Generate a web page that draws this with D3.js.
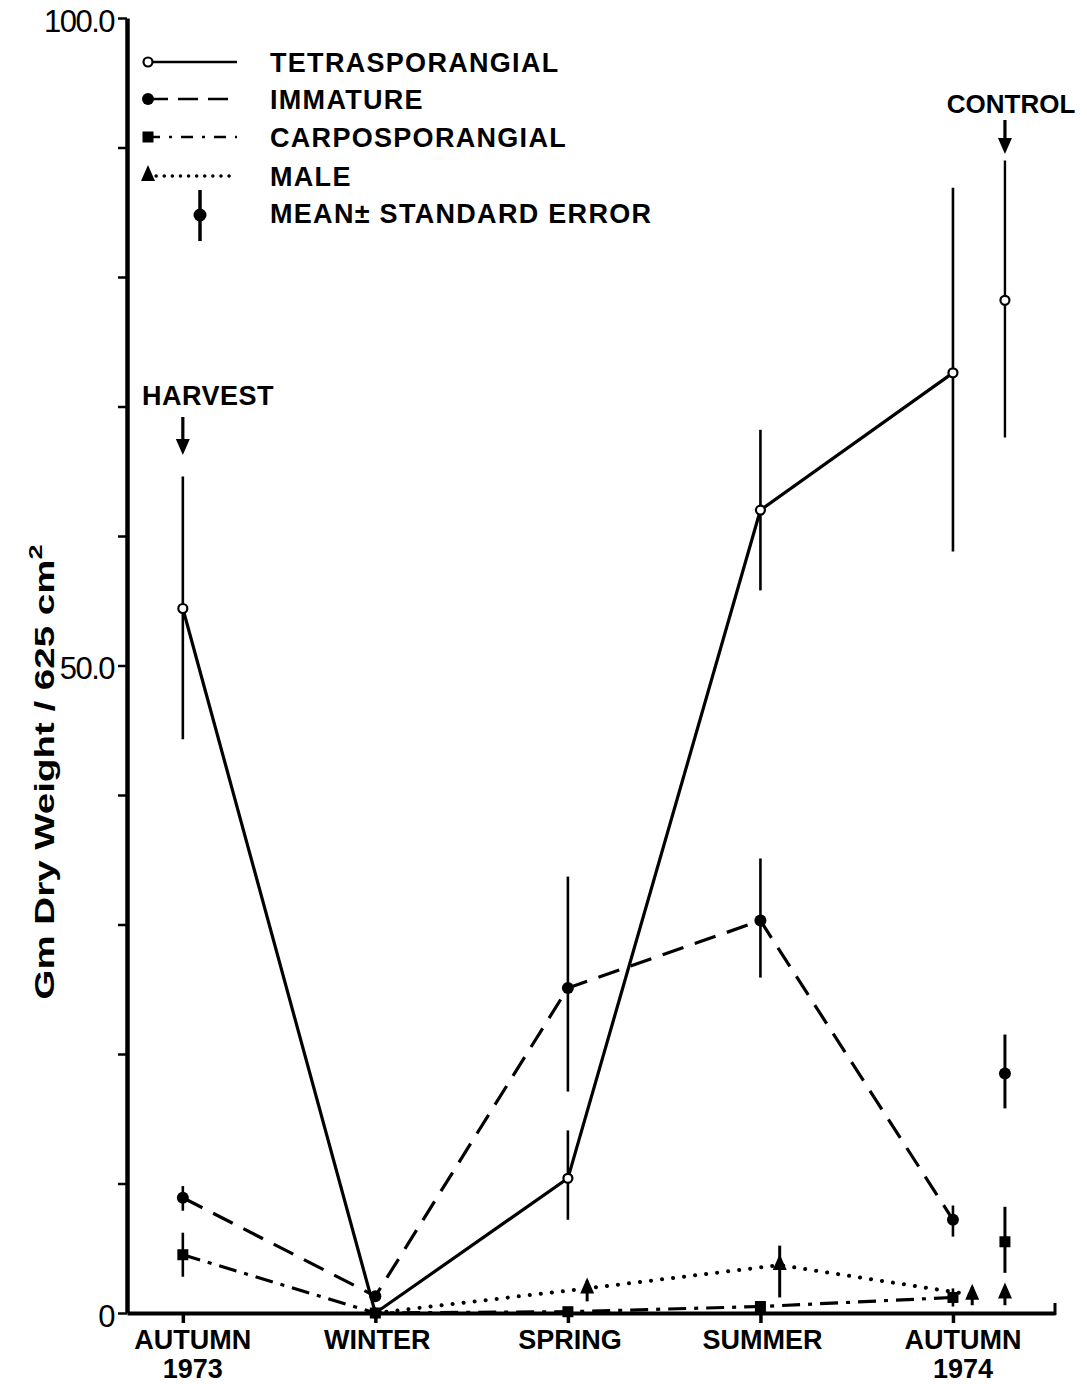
<!DOCTYPE html>
<html>
<head>
<meta charset="utf-8">
<script src="https://cdn.jsdelivr.net/npm/d3@7"></script>
<style>
  body { margin: 0; background: #fff; }
  svg { display: block; }
  text { font-family: "Liberation Sans", Arial, sans-serif; fill: #000; }
  .lbl { font-weight: bold; }
</style>
</head>
<body>
<svg class="chart"></svg>
<script>
// seasons along the x axis (index positions 0..4), control plot sits to the right
var seasonLabels = [["AUTUMN", "1973"], ["WINTER"], ["SPRING"], ["SUMMER"], ["AUTUMN", "1974"]];
var seasonIdx = [0, 1, 2, 3, 4];
var controlIdx = 4.27;
var maleShift = 0.1;

var yTicks = [0, 10, 20, 30, 40, 50, 60, 70, 80, 90, 100];
var yTickLabels = {0: "0", 50: "50.0", 100: "100.0"};

// mean and mean +/- standard error per season (null = none drawn)
var tetraMean = [54.4, 0, 10.4, 62.0, 72.6];
var tetraLo   = [44.3, null, 7.2, 55.8, 58.8];
var tetraHi   = [64.6, null, 14.1, 68.2, 86.9];

var immMean = [8.9, 1.3, 25.1, 30.3, 7.2];
var immLo   = [7.9, null, 17.1, 25.9, 5.9];
var immHi   = [9.8, null, 33.7, 35.1, 8.3];

var carpoMean = [4.5, 0, 0.1, 0.5, 1.2];
var carpoLo   = [2.8, null, null, null, 0.5];
var carpoHi   = [6.2, null, null, null, 1.9];

var maleMean = [null, 0, 1.9, 3.7, 1.4];
var maleLo   = [null, null, 0.9, 1.2, 0.6];
var maleHi   = [null, null, 2.5, 5.2, 2.0];

// control plot: tetra, immature, carpo, male
var ctrlMean = [78.2, 18.5, 5.5, 1.5];
var ctrlLo   = [67.6, 15.8, 3.1, 0.6];
var ctrlHi   = [89.0, 21.5, 8.2, 2.0];

var legendNames = ["TETRASPORANGIAL", "IMMATURE", "CARPOSPORANGIAL", "MALE", "MEAN\u00b1 STANDARD ERROR"];

var W = 1087, H = 1384;
var svg = d3.select('svg.chart').attr('width', W).attr('height', H);

var x = d3.scaleLinear().domain([-0.29, 4.53]).range([127, 1055]);
var y = d3.scaleLinear().domain([0, 100]).range([1313, 18]);

var styles = {
  tetra: { dash: null, shape: 'open' },
  imm:   { dash: '22 12', shape: 'dot' },
  carpo: { dash: '18 8 4 8', shape: 'square' },
  male:  { dash: '0.1 11', shape: 'tri' }
};

var drawMarker = function (g, shape, cx, cy) {
  if (shape === 'open') {
    g.append('circle').attr('cx', cx).attr('cy', cy).attr('r', 4.5)
      .attr('fill', '#fff').attr('stroke', '#000').attr('stroke-width', 2.2);
  } else if (shape === 'dot') {
    g.append('circle').attr('cx', cx).attr('cy', cy).attr('r', 6).attr('fill', '#000');
  } else if (shape === 'square') {
    g.append('rect').attr('x', cx - 5.5).attr('y', cy - 5.5).attr('width', 11).attr('height', 11).attr('fill', '#000');
  } else if (shape === 'tri') {
    g.append('path').attr('d', 'M' + cx + ',' + (cy - 11) + 'L' + (cx + 7) + ',' + (cy + 5) + 'L' + (cx - 7) + ',' + (cy + 5) + 'Z')
      .attr('fill', '#000');
  }
};

var errBar = function (g, xv, lo, hi, w) {
  g.append('line').attr('x1', x(xv)).attr('x2', x(xv)).attr('y1', y(lo)).attr('y2', y(hi))
    .attr('stroke', '#000').attr('stroke-width', w || 2.6);
};

// axes
var yAxis = d3.axisLeft(y).tickValues(yTicks).tickSize(9).tickSizeOuter(0)
  .tickFormat(function (d) { return yTickLabels[d] || ''; });
var gy = svg.append('g').attr('transform', 'translate(127,0)').call(yAxis);
gy.select('.domain').attr('stroke-width', 4.5);
gy.selectAll('.tick line').attr('stroke-width', 2.5);
gy.selectAll('.tick text').attr('font-size', 31).attr('x', -13).attr('dy', '0.42em')
  .style('font-family', '"Liberation Sans", Arial, sans-serif').attr('letter-spacing', -1.5);

var xAxis = d3.axisBottom(x).tickValues(seasonIdx).tickSize(10).tickSizeOuter(0).tickFormat('');
var gx = svg.append('g').attr('transform', 'translate(0,' + y(0) + ')').call(xAxis);
gx.select('.domain').attr('stroke-width', 4);
gx.selectAll('.tick line').attr('stroke-width', 3.5);
svg.append('line').attr('x1', x.range()[1]).attr('x2', x.range()[1])
  .attr('y1', y(0) + 2).attr('y2', y(0) - 10).attr('stroke', '#000').attr('stroke-width', 3);

seasonLabels.forEach(function (lines, i) {
  lines.forEach(function (s, j) {
    svg.append('text').attr('class', 'lbl').attr('x', x(seasonIdx[i]) + (lines.length > 1 ? 10 : 2))
      .attr('y', 1349 + j * 29).attr('text-anchor', 'middle').attr('font-size', 27).text(s);
  });
});

var ylab = svg.append('text').attr('class', 'lbl').attr('transform', 'translate(54,772) rotate(-90)')
  .attr('text-anchor', 'middle').attr('font-size', 27)
  .attr('textLength', 455).attr('lengthAdjust', 'spacingAndGlyphs');
ylab.append('tspan').text('Gm Dry Weight / 625 cm');
ylab.append('tspan').attr('font-size', 19).attr('dy', -12).text('2');

// series
var series = [
  { key: 'tetra', mean: tetraMean, lo: tetraLo, hi: tetraHi, dx: 0 },
  { key: 'imm', mean: immMean, lo: immLo, hi: immHi, dx: 0 },
  { key: 'carpo', mean: carpoMean, lo: carpoLo, hi: carpoHi, dx: 0 },
  { key: 'male', mean: maleMean, lo: maleLo, hi: maleHi, dx: maleShift }
];

var plot = svg.append('g');
series.forEach(function (s) {
  var pts = [];
  s.mean.forEach(function (v, i) {
    if (v === null) return;
    var xi = i === 1 ? seasonIdx[i] : seasonIdx[i] + s.dx;
    pts.push([xi, v, s.lo[i], s.hi[i]]);
  });
  pts.forEach(function (p) {
    if (p[2] !== null) errBar(plot, p[0], p[2], p[3], s.key === 'male' ? 3 : 2.6);
  });
  var line = d3.line().x(function (p) { return x(p[0]); }).y(function (p) { return y(p[1]); });
  var path = plot.append('path').datum(pts).attr('d', line).attr('fill', 'none')
    .attr('stroke', '#000').attr('stroke-width', s.key === 'male' ? 4 : 3.2);
  if (styles[s.key].dash) path.attr('stroke-dasharray', styles[s.key].dash);
  if (s.key === 'male') path.attr('stroke-linecap', 'round');
  pts.forEach(function (p) {
    if (s.key === 'male' && p[0] === seasonIdx[1]) return;
    drawMarker(plot, styles[s.key].shape, x(p[0]), y(p[1]));
  });
});

// control plot
var ctrlShapes = ['open', 'dot', 'square', 'tri'];
ctrlMean.forEach(function (v, i) {
  errBar(plot, controlIdx, ctrlLo[i], ctrlHi[i], i === 0 ? 2.4 : 3);
  drawMarker(plot, ctrlShapes[i], x(controlIdx), y(v));
});

// annotations
var arrow = function (xv, y1, y2) {
  svg.append('line').attr('x1', x(xv)).attr('x2', x(xv)).attr('y1', y1).attr('y2', y2 - 10)
    .attr('stroke', '#000').attr('stroke-width', 3.2);
  svg.append('path').attr('d', 'M' + (x(xv) - 7) + ',' + (y2 - 16) + 'L' + (x(xv) + 7) + ',' + (y2 - 16) + 'L' + x(xv) + ',' + y2 + 'Z');
};
svg.append('text').attr('class', 'lbl').attr('x', 208).attr('y', 405).attr('text-anchor', 'middle')
  .attr('font-size', 27).attr('letter-spacing', 0.5).text('HARVEST');
arrow(seasonIdx[0], 417, 455);
svg.append('text').attr('class', 'lbl').attr('x', 1011).attr('y', 113).attr('text-anchor', 'middle')
  .attr('font-size', 26).text('CONTROL');
arrow(controlIdx, 120, 154);

// legend
var legend = svg.append('g');
var rowY = [62, 99, 137, 176, 213];
var legKeys = ['tetra', 'imm', 'carpo', 'male'];
legKeys.forEach(function (k, i) {
  var ln = legend.append('line').attr('x1', 148).attr('x2', 237).attr('y1', rowY[i]).attr('y2', rowY[i])
    .attr('stroke', '#000').attr('stroke-width', k === 'male' ? 3.5 : 2.6);
  if (styles[k].dash) ln.attr('stroke-dasharray', k === 'imm' ? '20 10' : (k === 'carpo' ? '12 9 3 9' : '0.1 8'));
  if (k === 'male') ln.attr('stroke-linecap', 'round');
  drawMarker(legend, styles[k].shape, 148, rowY[i]);
});
legend.append('line').attr('x1', 200).attr('x2', 200).attr('y1', 190).attr('y2', 241)
  .attr('stroke', '#000').attr('stroke-width', 3.5);
legend.append('circle').attr('cx', 200).attr('cy', 215).attr('r', 6.5).attr('fill', '#000');
legendNames.forEach(function (n, i) {
  legend.append('text').attr('class', 'lbl').attr('x', 270).attr('y', rowY[i] + 10)
    .attr('font-size', 27).attr('letter-spacing', 1.3).text(n);
});
</script>
</body>
</html>
